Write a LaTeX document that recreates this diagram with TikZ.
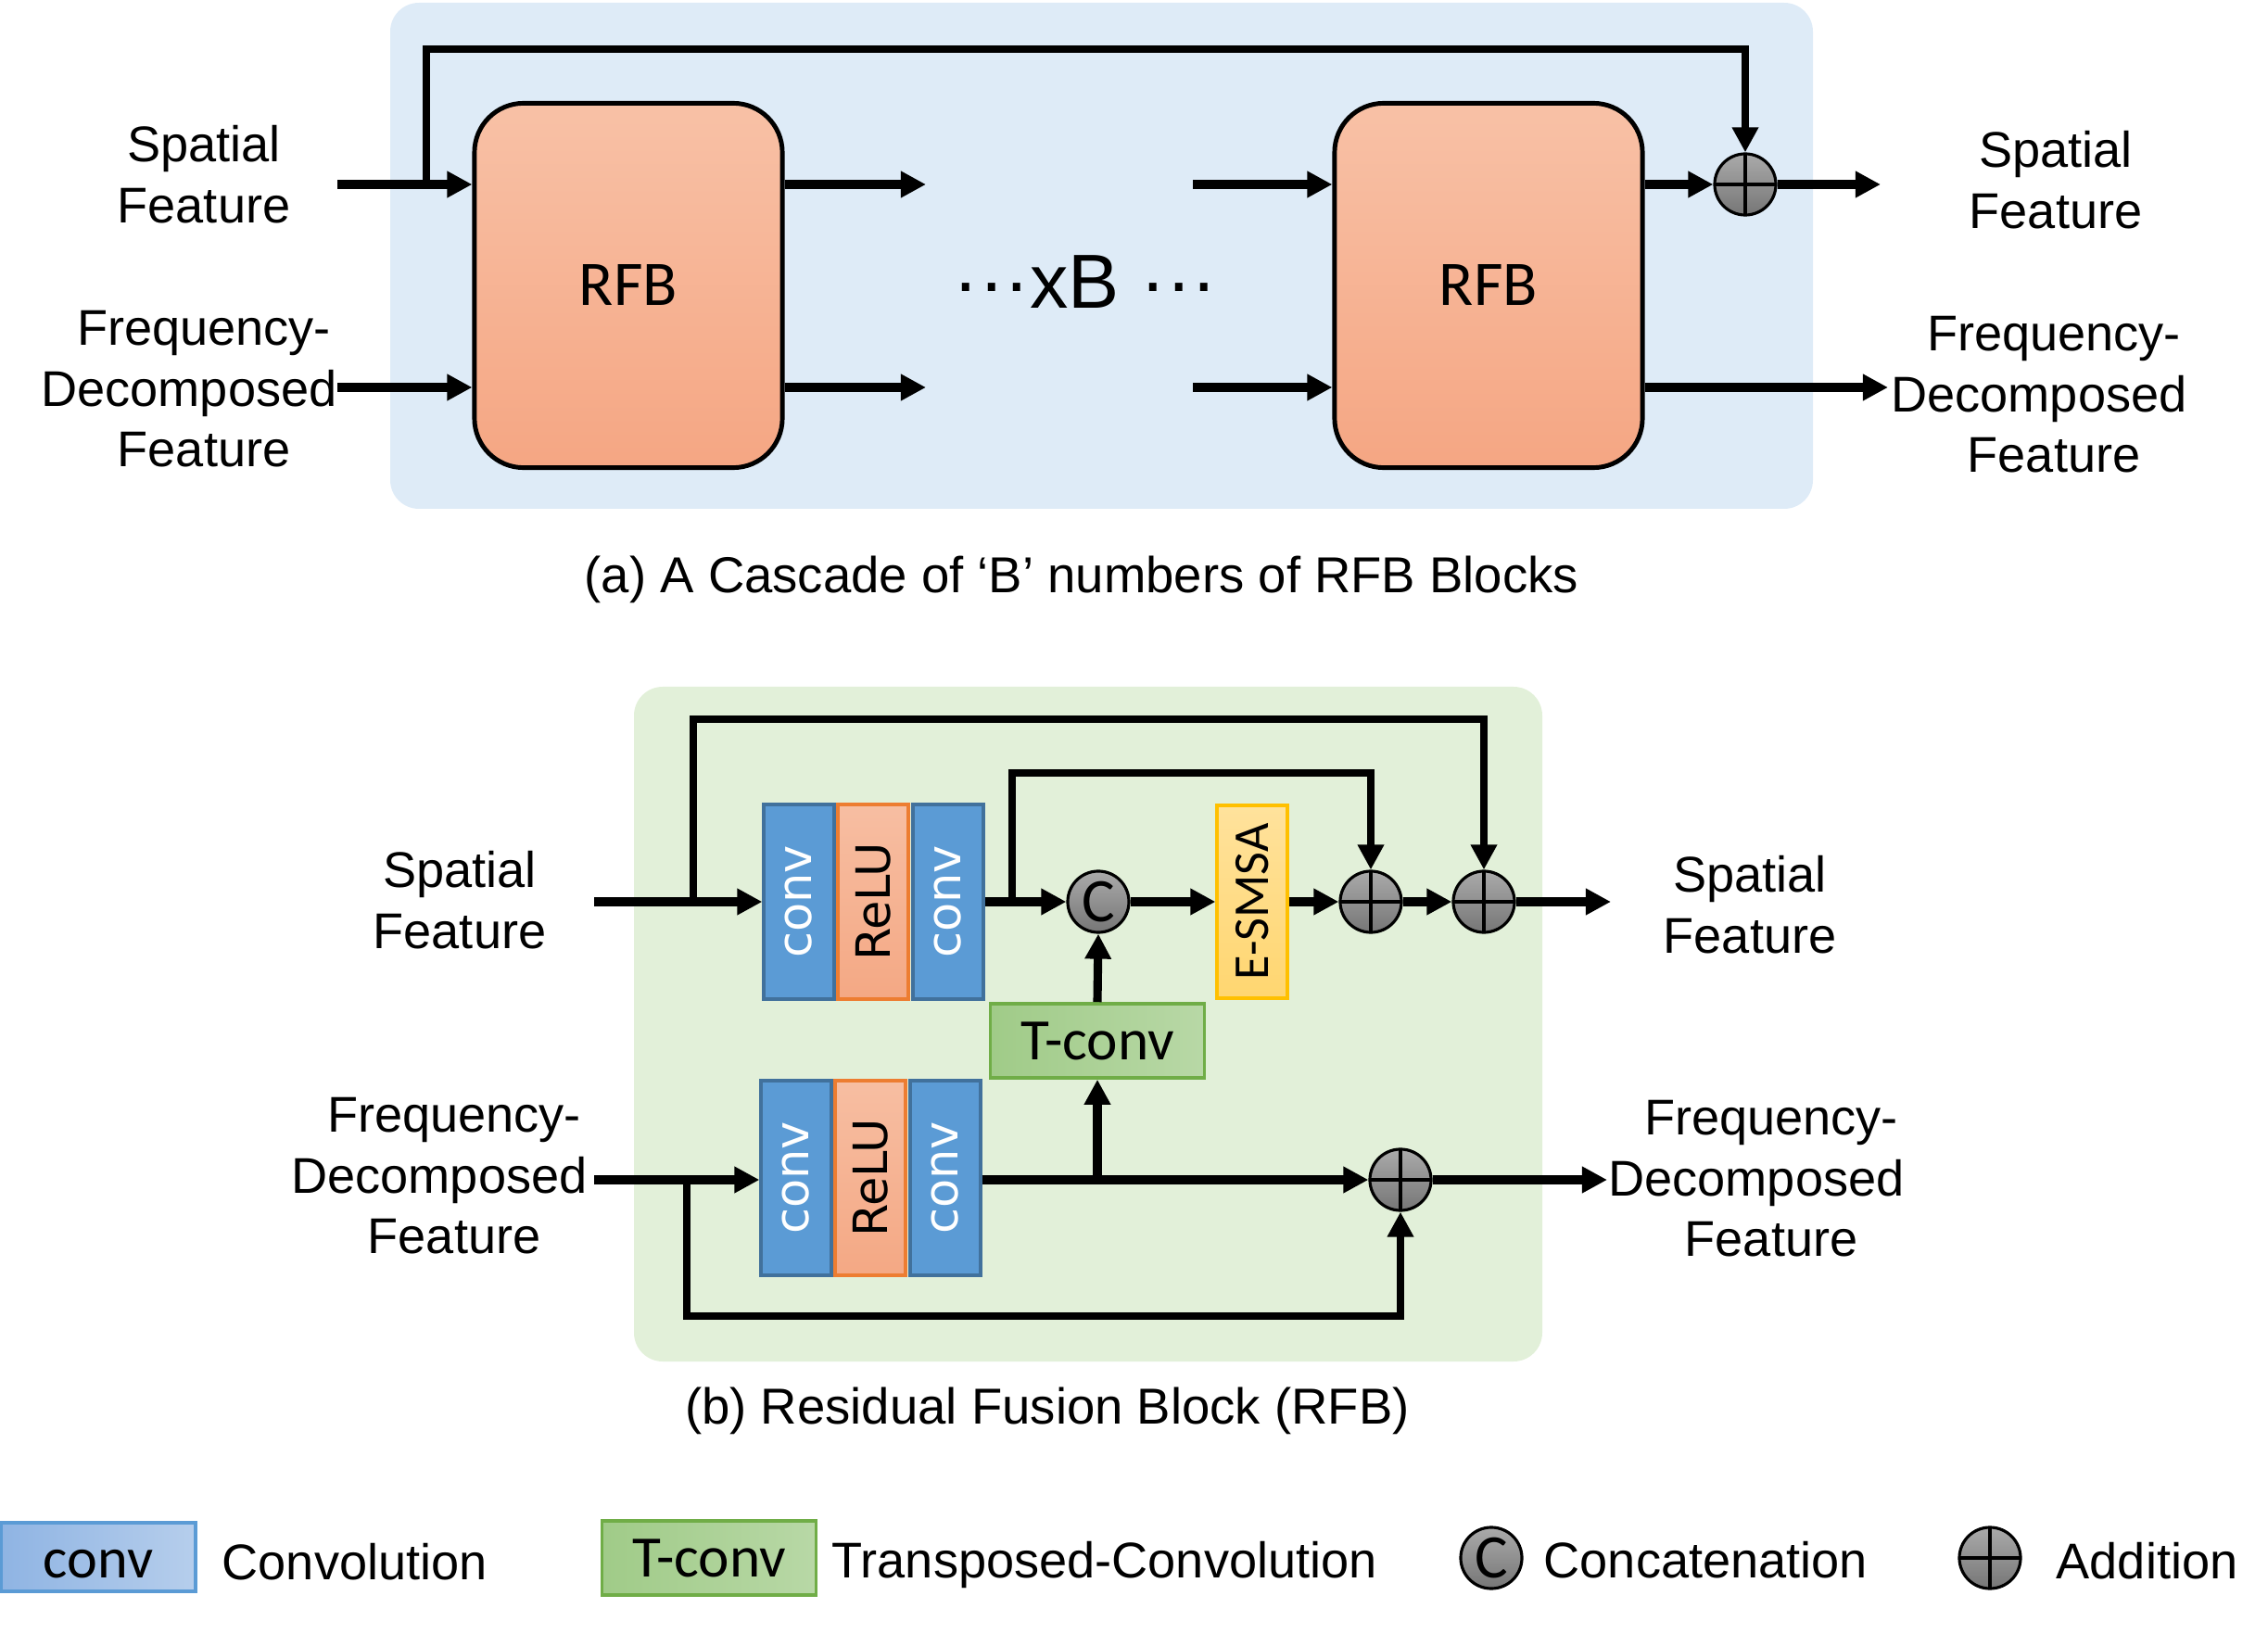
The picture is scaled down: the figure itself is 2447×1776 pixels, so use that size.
\documentclass[tikz,border=0pt]{standalone}
\usepackage{fontspec}
\usepackage{graphicx}
\setmainfont{Liberation Sans}
\newfontfamily\calfont{Carlito}
\newfontfamily\verfont{DejaVu Sans}
\usetikzlibrary{arrows.meta}
\definecolor{bgA}{RGB}{222,235,247}
\definecolor{bgB}{RGB}{226,240,217}
\definecolor{rfbTop}{RGB}{248,193,166}
\definecolor{rfbBot}{RGB}{245,166,131}
\definecolor{convF}{RGB}{91,155,213}
\definecolor{convD}{RGB}{65,113,156}
\definecolor{reluTop}{RGB}{247,190,162}
\definecolor{reluBot}{RGB}{244,168,132}
\definecolor{reluD}{RGB}{237,125,49}
\definecolor{esTop}{RGB}{255,226,156}
\definecolor{esBot}{RGB}{255,214,112}
\definecolor{esD}{RGB}{255,192,0}
\definecolor{tcL}{RGB}{160,203,136}
\definecolor{tcR}{RGB}{184,216,166}
\definecolor{tcD}{RGB}{112,173,71}
\definecolor{cirTop}{RGB}{170,170,170}
\definecolor{cirBot}{RGB}{118,118,118}
\definecolor{lgL}{RGB}{143,180,227}
\definecolor{lgR}{RGB}{182,206,236}
\definecolor{lgD}{RGB}{91,155,213}
\begin{document}
\begin{tikzpicture}[x=0.01cm,y=-0.01cm,
  lab/.style={font=\fontsize{15.4}{18.6}\selectfont, align=center, inner sep=0pt},
  capt/.style={font=\fontsize{15.5}{18.6}\selectfont, inner sep=0pt, anchor=base},
  legt/.style={font=\fontsize{15.4}{18.6}\selectfont, inner sep=0pt, anchor=base west},
  arr/.style={line width=2.6pt, -{Triangle[length=0.27cm,width=0.27cm]}},
  skipline/.style={line width=2.2pt, -{Triangle[length=0.27cm,width=0.27cm]}},
  rfb/.style={draw=black, line width=1.4pt, rounded corners=0.53cm, top color=rfbTop, bottom color=rfbBot,
    minimum width=3.32cm, minimum height=3.93cm, inner sep=0pt, font=\calfont\fontsize{19.5}{22}\selectfont},
  convbox/.style={draw=convD, line width=0.9pt, fill=convF, minimum width=0.76cm, minimum height=2.1cm,
    inner sep=0pt, text=white, font=\verfont\fontsize{14.5}{17}\selectfont},
  relubox/.style={draw=reluD, line width=0.9pt, top color=reluTop, bottom color=reluBot, minimum width=0.76cm,
    minimum height=2.1cm, inner sep=0pt, text=black, font=\verfont\fontsize{14.5}{17}\selectfont},
  esbox/.style={draw=esD, line width=0.9pt, top color=esTop, bottom color=esBot, minimum width=0.76cm,
    minimum height=2.08cm, inner sep=0pt, font=\calfont\fontsize{15.4}{17}\selectfont},
  tcbox/.style={draw=tcD, line width=1pt, left color=tcL, right color=tcR, minimum width=2.31cm,
    minimum height=0.8cm, inner sep=0pt, font=\calfont\fontsize{18}{20}\selectfont},
  legconv/.style={draw=lgD, line width=1.2pt, left color=lgL, right color=lgR, minimum width=2.1cm,
    minimum height=0.74cm, inner sep=0pt, text height=0.44cm, text depth=0cm,
    font=\calfont\fontsize{17.7}{20}\selectfont},
  plus/.style={circle, draw=black, line width=0.9pt, top color=cirTop, bottom color=cirBot,
    minimum size=0.66cm, inner sep=0pt,
    path picture={\draw[line width=1pt] (path picture bounding box.north) -- (path picture bounding box.south)
      (path picture bounding box.west) -- (path picture bounding box.east);}},
  catc/.style={circle, draw=black, line width=0.9pt, top color=cirTop, bottom color=cirBot,
    minimum size=0.66cm, inner sep=0pt, font=\calfont\fontsize{19}{20}\selectfont}
]
\useasboundingbox (0,0) rectangle (2447,1776);

% ---------- panel (a) ----------
\fill[bgA, rounded corners=0.31cm] (421,3) rectangle (1956,549);
\node[rfb] (r1) at (678,308) {RFB};
\node[rfb] (r2) at (1606,308) {RFB};
\node[plus] (pa) at (1883,199) {};
\node[font=\fontsize{23.5}{26}\selectfont, inner sep=0pt] (xb) at (1171,304) {···xB ···};

\node[lab] (aLS) at (220,188) {Spatial\\Feature};
\node[lab] (aLF) at (204,420) {\hspace*{0.32cm}Frequency-\\Decomposed\\\hspace*{0.32cm}Feature};
\node[lab] (aRS) at (2218,194) {Spatial\\Feature};
\node[lab] (aRF) at (2200,426) {\hspace*{0.32cm}Frequency-\\Decomposed\\\hspace*{0.32cm}Feature};
\node[capt] (capA) at (1167,640) {(a) A Cascade of ‘B’ numbers of RFB Blocks};

\coordinate (aInS) at (364,199);
\coordinate (aInF) at (364,418);
\coordinate (aSk) at (460,199);
\coordinate (aSkTop) at (460,53);
\coordinate (aO1) at (999,199);
\coordinate (aO2) at (999,418);
\coordinate (aI1) at (1287,199);
\coordinate (aI2) at (1287,418);
\coordinate (aOutS) at (2029,199);
\coordinate (aOutF) at (2037,418);

\draw[arr] (aInS) -- (aInS -| r1.west);
\draw[arr] (aInF) -- (aInF -| r1.west);
\draw[skipline] (aSk) -- (aSkTop) -| (pa.north);
\draw[arr] (aO1 -| r1.east) -- (aO1);
\draw[arr] (aO2 -| r1.east) -- (aO2);
\draw[arr] (aI1) -- (aI1 -| r2.west);
\draw[arr] (aI2) -- (aI2 -| r2.west);
\draw[arr] (pa -| r2.east) -- (pa.west);
\draw[arr] (pa.east) -- (aOutS);
\draw[arr] (aI2 -| r2.east) -- (aOutF);

% ---------- panel (b) ----------
\fill[bgB, rounded corners=0.31cm] (684,741) rectangle (1664,1469);

\node[convbox] (c1) at (862,973) {\rotatebox{90}{conv}};
\node[relubox] (re1) at (942,973) {\rotatebox{90}{ReLU}};
\node[convbox] (c2) at (1023,973) {\rotatebox{90}{conv}};
\node[convbox] (c3) at (859,1271) {\rotatebox{90}{conv}};
\node[relubox] (re2) at (939,1271) {\rotatebox{90}{ReLU}};
\node[convbox] (c4) at (1020,1271) {\rotatebox{90}{conv}};
\node[catc] (cat) at (1185,973) {C};
\node[esbox] (es) at (1351,973) {\rotatebox{90}{E-SMSA}};
\node[plus] (p1) at (1479,973) {};
\node[plus] (p2) at (1601,973) {};
\node[plus] (p3) at (1511,1273) {};
\node[tcbox] (tc) at (1184,1123) {T-conv};

\node[lab] (bLS) at (496,971) {Spatial\\Feature};
\node[lab] (bLF) at (474,1269) {\hspace*{0.32cm}Frequency-\\Decomposed\\\hspace*{0.32cm}Feature};
\node[lab] (bRS) at (1888,976) {Spatial\\Feature};
\node[lab] (bRF) at (1895,1272) {\hspace*{0.32cm}Frequency-\\Decomposed\\\hspace*{0.32cm}Feature};
\node[capt] (capB) at (1130,1536) {(b) Residual Fusion Block (RFB)};

\coordinate (bInS) at (641,973);
\coordinate (bInF) at (641,1273);
\coordinate (bSk1) at (748,973);
\coordinate (bSk1Top) at (748,776);
\coordinate (bSk2) at (1092,973);
\coordinate (bSk2Top) at (1092,834);
\coordinate (bSk3) at (741,1273);
\coordinate (bSk3Bot) at (741,1420);
\coordinate (bBr) at (1184,1273);
\coordinate (bOutS) at (1738,973);
\coordinate (bOutF) at (1734,1273);

\draw[arr] (bInS) -- (c1.west);
\draw[skipline] (bSk1) -- (bSk1Top) -| (p2.north);
\draw[arr] (c2.east) -- (cat.west);
\draw[skipline] (bSk2) -- (bSk2Top) -| (p1.north);
\draw[arr] (cat.east) -- (es.west);
\draw[arr] (es.east) -- (p1.west);
\draw[arr] (p1.east) -- (p2.west);
\draw[arr] (p2.east) -- (bOutS);
\draw[arr] (tc.north) -- (cat.south);

\draw[arr] (bInF) -- (bInF -| c3.west);
\draw[skipline] (bSk3) -- (bSk3Bot) -| (p3.south);
\draw[arr] (bInF -| c4.east) -- (p3.west);
\draw[arr] (bBr) -- (tc.south);
\draw[arr] (p3.east) -- (bOutF);

% ---------- legend ----------
\node[legconv] (lconv) at (106,1680) {conv};
\node[legt] (lconvT) at (239,1704) {Convolution};
\node[tcbox] (ltc) at (765,1681) {T-conv};
\node[legt] (ltcT) at (897,1702) {Transposed-Convolution};
\node[catc] (lcat) at (1609,1681) {C};
\node[legt] (lcatT) at (1665,1702) {Concatenation};
\node[plus] (lplus) at (2147,1681) {};
\node[legt] (lplusT) at (2218,1703) {Addition};
\end{tikzpicture}
\end{document}
